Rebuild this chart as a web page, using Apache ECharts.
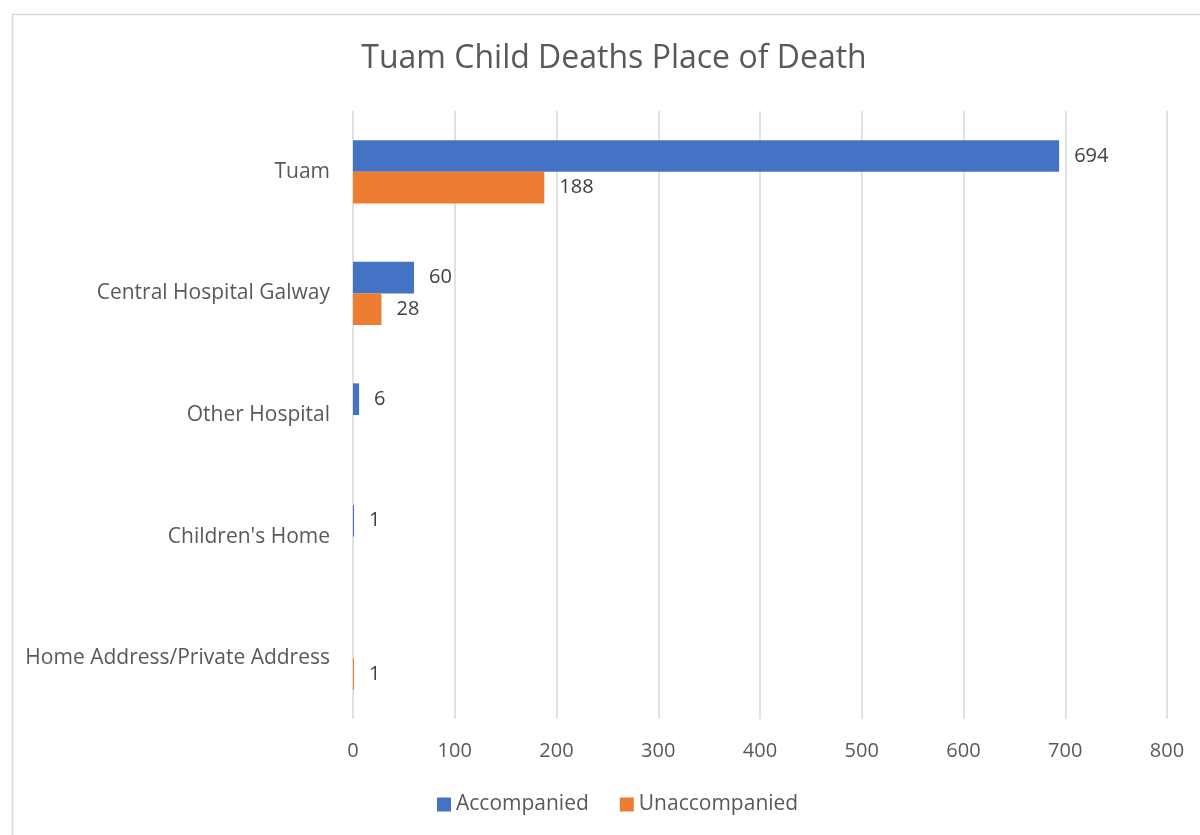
<!DOCTYPE html>
<html>
<head>
<meta charset="utf-8">
<script src="https://cdn.jsdelivr.net/npm/echarts@6/dist/echarts.min.js"></script>
<style>
  html, body { margin: 0; padding: 0; background: #fff; }
  #chart { width: 1200px; height: 835px; }
</style>
</head>
<body>
<div id="chart"></div>
<script>
// Place of death categories, listed top to bottom
const places = ['Tuam', 'Central Hospital Galway', 'Other Hospital', "Children's Home", 'Home Address/Private Address'];
const accompanied = [694, 60, 6, 1, 0];
const unaccompanied = [188, 28, 0, 0, 1];
const seriesNames = ['Accompanied', 'Unaccompanied'];
const xTicks = { min: 0, max: 800, interval: 100 };

const FONT = '"Open Sans", "Liberation Sans", sans-serif';
const TEXT = '#595959';

const chart = echarts.init(document.getElementById('chart'), null, { renderer: 'canvas' });

// hide labels on empty bars
const labelFmt = p => (p.value > 0 ? String(p.value) : '');

chart.setOption({
  backgroundColor: '#ffffff',
  animation: false,
  graphic: [{
    type: 'rect',
    left: 10, top: 12,
    shape: { width: 1200, height: 840 },
    style: { fill: 'none', stroke: '#d9d9d9', lineWidth: 1.5 },
    silent: true
  }],
  title: {
    text: 'Tuam Child Deaths Place of Death',
    left: 609, top: 38,
    textAlign: 'center',
    textStyle: { fontFamily: FONT, fontSize: 32, fontWeight: 'normal', color: TEXT }
  },
  legend: {
    data: seriesNames,
    left: 432, top: 789,
    itemWidth: 14, itemHeight: 14, itemGap: 31,
    icon: 'rect',
    textStyle: { fontFamily: FONT, fontSize: 21, color: TEXT }
  },
  grid: { left: 353, right: 33, top: 111, bottom: 116, containLabel: false },
  xAxis: {
    type: 'value',
    min: xTicks.min, max: xTicks.max, interval: xTicks.interval,
    axisLine: { show: false },
    axisTick: { show: false },
    axisLabel: { fontFamily: FONT, fontSize: 20, color: TEXT, margin: 22 },
    splitLine: { lineStyle: { color: '#d9d9d9', width: 1.5 } }
  },
  yAxis: {
    type: 'category',
    data: places,
    inverse: true,
    axisLine: { show: false },
    axisTick: { show: false },
    axisLabel: { fontFamily: FONT, fontSize: 21, color: TEXT, margin: 23 }
  },
  series: [
    {
      name: seriesNames[0], type: 'bar', data: accompanied,
      barGap: '0%', barCategoryGap: '48%',
      itemStyle: { color: '#4472c4' },
      label: { show: true, position: 'right', distance: 15, formatter: labelFmt,
               fontFamily: FONT, fontSize: 20, color: '#404040' }
    },
    {
      name: seriesNames[1], type: 'bar', data: unaccompanied,
      barGap: '0%', barCategoryGap: '48%',
      itemStyle: { color: '#ed7d31' },
      label: { show: true, position: 'right', distance: 15, formatter: labelFmt,
               fontFamily: FONT, fontSize: 20, color: '#404040' }
    }
  ]
});
</script>
</body>
</html>
